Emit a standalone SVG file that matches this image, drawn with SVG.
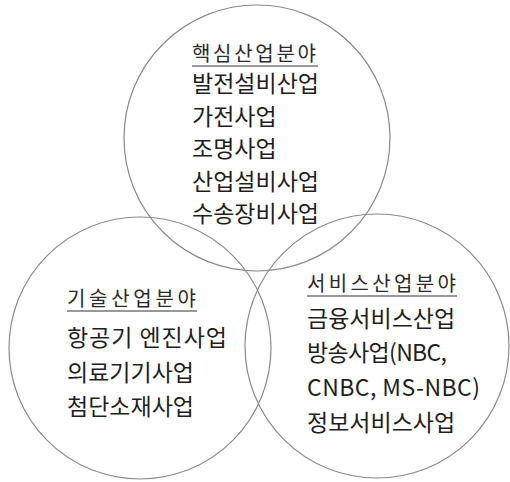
<svg xmlns="http://www.w3.org/2000/svg" width="510" height="482" viewBox="0 0 510 482">
<style>
.c{fill:none;stroke:#8a8a8a;stroke-width:1.2}
.t{font-family:"Noto Sans CJK KR","Noto Sans",sans-serif;font-size:23px;fill:#1e1e1e}
.h{font-family:"Noto Sans CJK KR","Noto Sans",sans-serif;font-size:20px;fill:#2a2a2a}
.u{stroke:#333;stroke-width:1.2}
</style>
<rect width="510" height="482" fill="#fff"/>
<g id="core">
<circle class="c" cx="257" cy="138" r="133"/>
<text class="h" x="192" y="61" textLength="124" lengthAdjust="spacing">핵심산업분야</text>
<line class="u" x1="192" y1="66" x2="318" y2="66"/>
<text class="t" x="192" y="92">발전설비산업</text>
<text class="t" x="192" y="124.5">가전사업</text>
<text class="t" x="192" y="157">조명사업</text>
<text class="t" x="192" y="189.5">산업설비사업</text>
<text class="t" x="192" y="222">수송장비사업</text>
</g>
<g id="tech">
<circle class="c" cx="140" cy="348" r="131"/>
<text class="h" x="67" y="306" textLength="129" lengthAdjust="spacing">기술산업분야</text>
<line class="u" x1="67" y1="311" x2="197" y2="311"/>
<text class="t" x="67" y="346" textLength="160" lengthAdjust="spacing">항공기 엔진사업</text>
<text class="t" x="67" y="381">의료기기사업</text>
<text class="t" x="67" y="415">첨단소재사업</text>
</g>
<g id="service">
<circle class="c" cx="377" cy="346" r="132"/>
<text class="h" x="307" y="291" textLength="149" lengthAdjust="spacing">서비스산업분야</text>
<line class="u" x1="307" y1="296" x2="457" y2="296"/>
<text class="t" x="307" y="327">금융서비스산업</text>
<text class="t" x="307" y="361" textLength="140" lengthAdjust="spacing">방송사업(NBC,</text>
<text class="t" x="307" y="396" textLength="173" lengthAdjust="spacing">CNBC,  MS-NBC)</text>
<text class="t" x="307" y="431">정보서비스사업</text>
</g>
<g id="connectors"></g>
</svg>
